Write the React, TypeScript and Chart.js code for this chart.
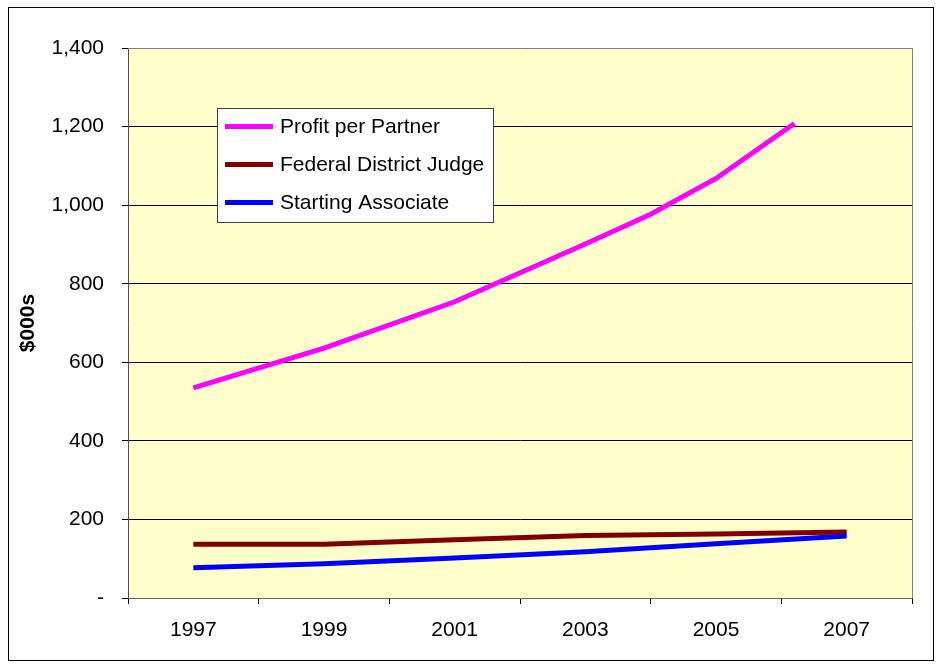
import React, { useEffect, useRef } from 'react';
import { Chart, registerables } from 'chart.js';

Chart.register(...registerables);

// ---- data ----
const partnerYears = [1997, 1999, 2001, 2003, 2004, 2005, 2006.2];
const partnerValues = [535, 636, 754, 901, 977, 1068, 1208];
const salaryYears = [1997, 1999, 2001, 2003, 2005, 2007];
const judgeValues = [137, 137, 148, 159, 163, 168];
const associateValues = [77, 87, 102, 118, 138, 158];
const seriesLabels = ['Profit per Partner', 'Federal District Judge', 'Starting Associate'];
const seriesColors = ['#FF00FF', '#800000', '#0000FF'];
const yAxisTitle = '$000s';
const yMin = 0;
const yMax = 1400;
const yStep = 200;
const xMin = 1996;
const xMax = 2008;

const FONT = '"Liberation Sans", Arial, sans-serif';

const pairs = (xs: number[], ys: number[]) => xs.map((x, i) => ({ x, y: ys[i] }));

const framePlugin = {
  id: 'frame',
  beforeDraw(chart: any) {
    const { ctx, chartArea } = chart;
    ctx.save();
    ctx.fillStyle = '#ffffff';
    ctx.fillRect(0, 0, chart.width, chart.height);
    ctx.fillStyle = '#FFFFCC';
    ctx.fillRect(chartArea.left, chartArea.top, chartArea.right - chartArea.left, chartArea.bottom - chartArea.top);
    ctx.restore();
  },
  beforeDatasetsDraw(chart: any) {
    const { ctx, chartArea } = chart;
    ctx.save();
    ctx.strokeStyle = '#808080';
    ctx.lineWidth = 1;
    ctx.beginPath();
    ctx.moveTo(chartArea.left, Math.round(chartArea.top) + 0.5);
    ctx.lineTo(Math.round(chartArea.right) + 0.5, Math.round(chartArea.top) + 0.5);
    ctx.lineTo(Math.round(chartArea.right) + 0.5, chartArea.bottom);
    ctx.stroke();
    ctx.restore();
  },
  afterDraw(chart: any) {
    const { ctx } = chart;
    ctx.save();
    // outer chart border
    ctx.strokeStyle = '#000000';
    ctx.lineWidth = 1;
    ctx.strokeRect(8.5, 7.5, 925, 653);
    // legend box
    const lx = 217.5, ly = 108.5, lw = 276, lh = 114;
    ctx.fillStyle = '#ffffff';
    ctx.fillRect(lx, ly, lw, lh);
    ctx.strokeStyle = '#404040';
    ctx.strokeRect(lx, ly, lw, lh);
    chart.data.datasets.forEach((ds: any, i: number) => {
      const cy = 126.5 + i * 38;
      ctx.strokeStyle = ds.borderColor;
      ctx.lineWidth = 5;
      ctx.lineCap = 'butt';
      ctx.beginPath();
      ctx.moveTo(225, cy);
      ctx.lineTo(273, cy);
      ctx.stroke();
      ctx.fillStyle = '#000000';
      ctx.font = `21px ${FONT}`;
      ctx.textAlign = 'left';
      ctx.textBaseline = 'middle';
      ctx.fillText(ds.label, 280, cy + 1);
    });
    ctx.restore();
  },
};

export default function App() {
  const ref = useRef<HTMLCanvasElement>(null);

  useEffect(() => {
    if (!ref.current) return;
    const chart = new Chart(ref.current, {
      type: 'line',
      data: {
        datasets: [
          {
            label: seriesLabels[0],
            data: pairs(partnerYears, partnerValues),
            borderColor: seriesColors[0],
            backgroundColor: seriesColors[0],
            borderWidth: 5,
            pointRadius: 0,
            tension: 0,
            borderCapStyle: 'butt',
            order: 2,
          },
          {
            label: seriesLabels[1],
            data: pairs(salaryYears, judgeValues),
            borderColor: seriesColors[1],
            backgroundColor: seriesColors[1],
            borderWidth: 5,
            pointRadius: 0,
            tension: 0,
            borderCapStyle: 'butt',
            order: 1,
          },
          {
            label: seriesLabels[2],
            data: pairs(salaryYears, associateValues),
            borderColor: seriesColors[2],
            backgroundColor: seriesColors[2],
            borderWidth: 5,
            pointRadius: 0,
            tension: 0,
            borderCapStyle: 'butt',
            order: 0,
          },
        ],
      },
      options: {
        responsive: false,
        animation: false,
        events: [],
        layout: { padding: { left: 0, top: 48, right: 31, bottom: 0 } },
        plugins: {
          legend: { display: false },
          tooltip: { enabled: false },
        },
        scales: {
          x: {
            type: 'linear',
            min: xMin,
            max: xMax,
            afterFit(scale: any) {
              scale.height = 69;
            },
            afterBuildTicks(scale: any) {
              const t = [];
              for (let v = xMin; v <= xMax; v++) t.push({ value: v });
              scale.ticks = t;
            },
            ticks: {
              autoSkip: false,
              maxRotation: 0,
              padding: 14,
              color: '#000000',
              font: { family: FONT, size: 21 },
              callback: (v: any) => (Number(v) % 2 === 1 ? String(v) : ''),
            },
            grid: {
              drawOnChartArea: false,
              drawTicks: true,
              tickLength: 6,
              tickColor: (c: any) => (c.tick && c.tick.value % 2 === 0 ? '#000000' : 'rgba(0,0,0,0)'),
            },
            border: { display: true, color: '#606060', width: 1 },
          },
          y: {
            min: yMin,
            max: yMax,
            afterFit(scale: any) {
              scale.width = 128;
            },
            ticks: {
              stepSize: yStep,
              padding: 18,
              color: '#000000',
              font: { family: FONT, size: 21 },
              callback: (v: any) => (Number(v) === 0 ? '-' : Number(v).toLocaleString('en-US')),
            },
            grid: {
              color: (c: any) => (c.tick && (c.tick.value === yMax || c.tick.value === yMin) ? 'rgba(0,0,0,0)' : '#000000'),
              tickColor: '#000000',
              tickLength: 6,
              lineWidth: 1,
            },
            border: { display: true, color: '#505050', width: 1 },
            title: {
              display: true,
              text: yAxisTitle,
              color: '#000000',
              font: { family: FONT, size: 21, weight: 'bold' },
              padding: { top: 16, bottom: 0 },
            },
          },
        },
      },
      plugins: [framePlugin],
    } as any);
    return () => chart.destroy();
  }, []);

  return (
    <div style={{ position: 'absolute', left: 0, top: 0, width: 943, height: 667, background: '#ffffff' }}>
      <canvas ref={ref} width={943} height={667} style={{ display: 'block' }} />
    </div>
  );
}
